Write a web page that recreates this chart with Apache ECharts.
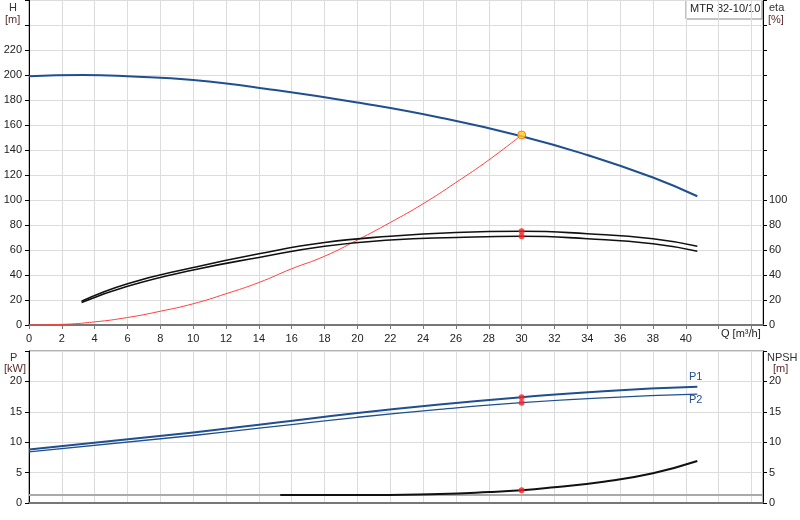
<!DOCTYPE html>
<html><head><meta charset="utf-8">
<script src="https://cdn.jsdelivr.net/npm/echarts@6/dist/echarts.min.js"></script>
<style>html,body{margin:0;padding:0;background:#fff}#c{width:800px;height:520px}</style>
</head><body><div id="c"></div>
<script>
const headQ=[0,3.3,6,10,15,20,25,30,34,38,40.7];
const headH=[199,200,199,196,188,178,166,151,136,118,103];
const etaQ=[3.2,6,10,14,18,22,26,30,34,38,40.7];
const eta1=[19,33,46,57,66,71,74,75,73,69,63];
const eta2=[18,31,44,54,63,68,70,71,69,65,59];
const sysQ=[0,2,4,6,8,10,12,14,16,18,20,22,24,26,28,30];
const sysH=[0,0.5,2.5,6,11,17,25,34,45,55,68,82,97,114,132,152];
const pQ=[0,10,15,20,25,30,35,40.7];
const p1=[8.8,11.6,13.2,14.8,16.2,17.4,18.4,19.1];
const p2=[8.4,11.1,12.6,14.1,15.4,16.5,17.3,17.9];
const npshQ=[15.3,20,25,28,30,32,35,38,40.7];
const npsh=[1.3,1.3,1.5,1.8,2.1,2.6,3.5,4.9,6.9];
const dutyQ=30, dutyH=152, dutyEta=[75,71], dutyP=[17.4,16.5], dutyNpsh=2.1;
const zip=(a,b)=>a.map((v,i)=>[v,b[i]]);
const gl={show:true,lineStyle:{color:'#dcdcdc',width:1}};
const lbl={color:'#222',fontSize:11,fontFamily:'Arial, Liberation Sans'};
const ch=echarts.init(document.getElementById('c'));
ch.setOption({
 animation:false,
 grid:[{left:29,right:37,top:0,height:325,show:true,borderColor:'#888',borderWidth:1},
       {left:29,right:37,top:351,height:152,show:true,borderColor:'#666',borderWidth:1}],
 xAxis:[
  {gridIndex:0,type:'value',min:0,max:44.7,interval:2,axisLine:{lineStyle:{color:'#777',width:2}},axisTick:{show:true,length:4,lineStyle:{color:'#777'}},
   axisLabel:Object.assign({},lbl,{showMaxLabel:false,formatter:v=>v<=40?String(v):''}),splitLine:gl},
  {gridIndex:1,type:'value',min:0,max:44.7,interval:2,axisLine:{lineStyle:{color:'#777',width:2}},axisTick:{show:false},axisLabel:{show:false},splitLine:gl}
 ],
 yAxis:[
  {gridIndex:0,type:'value',min:0,max:260,interval:20,axisLine:{show:true,lineStyle:{color:'#000'}},axisTick:{show:true,length:4,lineStyle:{color:'#000'}},
   axisLabel:Object.assign({},lbl,{margin:7,formatter:v=>(v>220?'':String(v))}),splitLine:gl},
  {gridIndex:0,type:'value',min:0,max:260,interval:20,position:'right',axisLine:{show:true,lineStyle:{color:'#000'}},axisTick:{show:true,length:4,lineStyle:{color:'#000'}},
   axisLabel:Object.assign({},lbl,{margin:6,formatter:v=>(v>100?'':String(v))}),splitLine:{show:false}},
  {gridIndex:1,type:'value',min:0,max:25,interval:5,axisLine:{show:true,lineStyle:{color:'#000'}},axisTick:{show:true,length:4,lineStyle:{color:'#000'}},
   axisLabel:Object.assign({},lbl,{margin:7,formatter:v=>(v>20?'':String(v))}),splitLine:gl},
  {gridIndex:1,type:'value',min:0,max:25,interval:5,position:'right',axisLine:{show:true,lineStyle:{color:'#000'}},axisTick:{show:true,length:4,lineStyle:{color:'#000'}},
   axisLabel:Object.assign({},lbl,{margin:6,formatter:v=>(v>20?'':String(v))}),splitLine:{show:false}}
 ],
 graphic:[
  {type:'text',left:9,top:2,style:{text:'H',fill:'#333',font:'11px Arial'}},
  {type:'text',left:5,top:14,style:{text:'[m]',fill:'#5a2a2a',font:'11px Arial'}},
  {type:'text',left:769,top:2,style:{text:'eta',fill:'#333',font:'11px Arial'}},
  {type:'text',left:768,top:14,style:{text:'[%]',fill:'#5a2a2a',font:'11px Arial'}},
  {type:'rect',shape:{x:686,y:0,width:76,height:19},style:{fill:'#fff',stroke:'#888'}},
  {type:'text',left:690,top:3,style:{text:'MTR 32-10/10',fill:'#222',font:'11px Arial'}},
  {type:'text',left:721,top:328,style:{text:'Q [m³/h]',fill:'#222',font:'11px Arial'}},
  {type:'text',left:10,top:352,style:{text:'P',fill:'#333',font:'11px Arial'}},
  {type:'text',left:4,top:363,style:{text:'[kW]',fill:'#5a2a2a',font:'11px Arial'}},
  {type:'text',left:767,top:352,style:{text:'NPSH',fill:'#333',font:'11px Arial'}},
  {type:'text',left:773,top:363,style:{text:'[m]',fill:'#5a2a2a',font:'11px Arial'}},
  {type:'text',left:689,top:371,style:{text:'P1',fill:'#1f4f8f',font:'11px Arial'}},
  {type:'text',left:689,top:394,style:{text:'P2',fill:'#1f4f8f',font:'11px Arial'}}
 ],
 series:[
  {type:'line',xAxisIndex:0,yAxisIndex:0,data:zip(sysQ,sysH),smooth:true,symbol:'none',lineStyle:{color:'#ff4040',width:1}},
  {type:'line',xAxisIndex:0,yAxisIndex:0,data:zip(headQ,headH),smooth:true,symbol:'none',lineStyle:{color:'#1f4f8f',width:2}},
  {type:'line',xAxisIndex:0,yAxisIndex:1,data:zip(etaQ,eta1),smooth:true,symbol:'none',lineStyle:{color:'#111',width:1.6}},
  {type:'line',xAxisIndex:0,yAxisIndex:1,data:zip(etaQ,eta2),smooth:true,symbol:'none',lineStyle:{color:'#111',width:1.6}},
  {type:'scatter',xAxisIndex:0,yAxisIndex:0,data:[[dutyQ,dutyH]],symbolSize:8,itemStyle:{color:'#ffd21f',borderColor:'#ff5a00',borderWidth:1},z:5},
  {type:'scatter',xAxisIndex:0,yAxisIndex:1,data:dutyEta.map(v=>[dutyQ,v]),symbolSize:6,itemStyle:{color:'#ff2020'},z:5},
  {type:'line',xAxisIndex:1,yAxisIndex:2,data:[[0,1.3],[44.7,1.3]],symbol:'none',lineStyle:{color:'#aaa',width:2},z:1},
  {type:'line',xAxisIndex:1,yAxisIndex:2,data:zip(pQ,p1),smooth:true,symbol:'none',lineStyle:{color:'#1f4f8f',width:2}},
  {type:'line',xAxisIndex:1,yAxisIndex:2,data:zip(pQ,p2),smooth:true,symbol:'none',lineStyle:{color:'#1f4f8f',width:1.3}},
  {type:'line',xAxisIndex:1,yAxisIndex:3,data:zip(npshQ,npsh),smooth:true,symbol:'none',lineStyle:{color:'#111',width:2}},
  {type:'scatter',xAxisIndex:1,yAxisIndex:2,data:dutyP.map(v=>[dutyQ,v]),symbolSize:6,itemStyle:{color:'#ff2020'},z:5},
  {type:'scatter',xAxisIndex:1,yAxisIndex:3,data:[[dutyQ,dutyNpsh]],symbolSize:6,itemStyle:{color:'#ff2020'},z:5}
 ]
});
</script></body></html>
